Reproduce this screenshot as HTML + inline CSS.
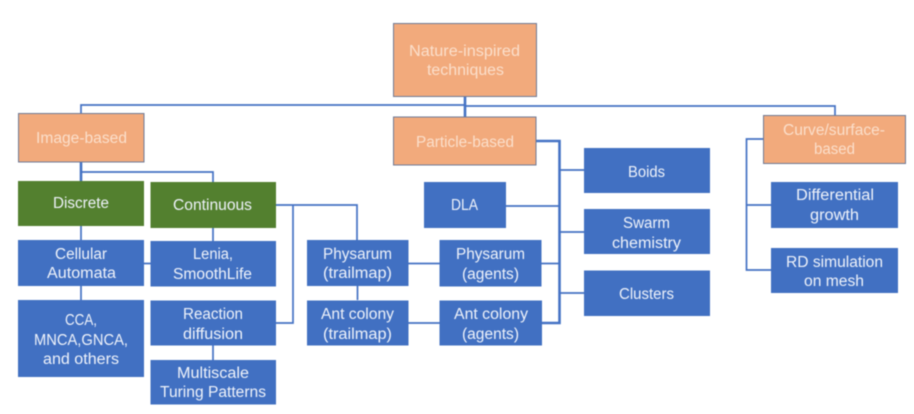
<!DOCTYPE html>
<html>
<head>
<meta charset="utf-8">
<style>
html,body{margin:0;padding:0;background:#fff;width:914px;height:414px;overflow:hidden}
svg{display:block;filter:blur(.4px)}
text{font-family:"Liberation Sans",sans-serif;font-size:15.5px;fill:#eef2fa}
text.o{fill:#fbdfcb}
.b{fill:#4170c2}
.g{fill:#53802f}
.r{fill:#f2aa7c;stroke:#6f7a96;stroke-width:1}
.l{stroke:#4472c4;stroke-width:1.7;fill:none}
.t{stroke:#4472c4;stroke-width:2.6;fill:none}
</style>
</head>
<body>
<svg width="914" height="414" viewBox="0 0 914 414" xmlns="http://www.w3.org/2000/svg">
<g>
<path class="l" d="M81 113V105H465M465 106H835V115"/>
<path class="t" d="M465 96V117"/>
<path class="t" d="M81 162V181"/>
<path class="l" d="M81 172H213V182"/>
<path class="l" d="M81 226V240M81 286V300M213 228V241M213 345V360M144 263.5H151"/>
<path class="l" d="M276 205H357V240M293 205V323H276M357.500 286V300"/>
<path class="l" d="M408 263.500H440M408 323H440"/>
<path class="t" d="M536 141H559.500V323H542"/>
<path class="l" d="M541 263.500H559M506 206H559M560 170H584M560 232H584M560 293H584"/>
<path class="l" d="M763 139H746.500V270H771M746.500 205H771"/>
</g>
<g>
<rect class="r" x="393.500" y="23.500" width="143" height="73"/>
<rect class="r" x="18.500" y="113.500" width="125.500" height="48.500"/>
<rect class="r" x="393.500" y="117" width="142.500" height="48"/>
<rect class="r" x="763.500" y="115.500" width="142" height="48"/>
<rect class="g" x="18" y="181" width="126" height="45"/>
<rect class="g" x="150.500" y="182" width="125.500" height="46"/>
<rect class="b" x="18" y="240" width="126" height="46"/>
<rect class="b" x="150.500" y="241" width="125.500" height="45.500"/>
<rect class="b" x="18" y="300" width="126" height="77"/>
<rect class="b" x="150.500" y="300.500" width="125.500" height="45"/>
<rect class="b" x="150.500" y="360" width="125.500" height="44.500"/>
<rect class="b" x="307" y="240" width="101.500" height="46"/>
<rect class="b" x="307" y="300.500" width="101.500" height="45"/>
<rect class="b" x="439.500" y="240" width="102" height="46.500"/>
<rect class="b" x="439.500" y="300.500" width="102.500" height="45"/>
<rect class="b" x="424" y="182" width="82" height="46"/>
<rect class="b" x="584" y="148" width="126" height="45"/>
<rect class="b" x="584" y="209" width="126" height="45"/>
<rect class="b" x="584" y="270.500" width="126" height="45.500"/>
<rect class="b" x="771" y="182" width="127" height="46"/>
<rect class="b" x="771" y="248" width="127" height="45"/>
</g>
<g>
<text class="o" x="409" y="56" textLength="111" lengthAdjust="spacingAndGlyphs">Nature-inspired</text>
<text class="o" x="427" y="75" textLength="77" lengthAdjust="spacingAndGlyphs">techniques</text>
<text class="o" x="36" y="143" textLength="91" lengthAdjust="spacingAndGlyphs">Image-based</text>
<text class="o" x="416" y="147" textLength="98" lengthAdjust="spacingAndGlyphs">Particle-based</text>
<text class="o" x="783" y="135" textLength="102" lengthAdjust="spacingAndGlyphs">Curve/surface-</text>
<text class="o" x="814" y="154" textLength="41" lengthAdjust="spacingAndGlyphs">based</text>
<text x="53" y="208" textLength="56" lengthAdjust="spacingAndGlyphs">Discrete</text>
<text x="173" y="210" textLength="79" lengthAdjust="spacingAndGlyphs">Continuous</text>
<text x="55" y="259" textLength="52" lengthAdjust="spacingAndGlyphs">Cellular</text>
<text x="47" y="278" textLength="69" lengthAdjust="spacingAndGlyphs">Automata</text>
<text x="193" y="259" textLength="40" lengthAdjust="spacingAndGlyphs">Lenia,</text>
<text x="173" y="279" textLength="79" lengthAdjust="spacingAndGlyphs">SmoothLife</text>
<text x="65" y="325" textLength="32" lengthAdjust="spacingAndGlyphs">CCA,</text>
<text x="34" y="345" textLength="94" lengthAdjust="spacingAndGlyphs">MNCA,GNCA,</text>
<text x="43" y="364" textLength="76" lengthAdjust="spacingAndGlyphs">and others</text>
<text x="183" y="319" textLength="60" lengthAdjust="spacingAndGlyphs">Reaction</text>
<text x="183" y="339" textLength="60" lengthAdjust="spacingAndGlyphs">diffusion</text>
<text x="177" y="378" textLength="72" lengthAdjust="spacingAndGlyphs">Multiscale</text>
<text x="160" y="397" textLength="106" lengthAdjust="spacingAndGlyphs">Turing Patterns</text>
<text x="323" y="259" textLength="69" lengthAdjust="spacingAndGlyphs">Physarum</text>
<text x="323" y="278" textLength="69" lengthAdjust="spacingAndGlyphs">(trailmap)</text>
<text x="321" y="319" textLength="73" lengthAdjust="spacingAndGlyphs">Ant colony</text>
<text x="323" y="339" textLength="69" lengthAdjust="spacingAndGlyphs">(trailmap)</text>
<text x="456" y="259" textLength="69" lengthAdjust="spacingAndGlyphs">Physarum</text>
<text x="462" y="279" textLength="57" lengthAdjust="spacingAndGlyphs">(agents)</text>
<text x="454" y="319" textLength="74" lengthAdjust="spacingAndGlyphs">Ant colony</text>
<text x="462" y="339" textLength="57" lengthAdjust="spacingAndGlyphs">(agents)</text>
<text x="451" y="210" textLength="27" lengthAdjust="spacingAndGlyphs">DLA</text>
<text x="628" y="177" textLength="37" lengthAdjust="spacingAndGlyphs">Boids</text>
<text x="623" y="228" textLength="47" lengthAdjust="spacingAndGlyphs">Swarm</text>
<text x="612" y="248" textLength="69" lengthAdjust="spacingAndGlyphs">chemistry</text>
<text x="619" y="299" textLength="55" lengthAdjust="spacingAndGlyphs">Clusters</text>
<text x="796" y="200" textLength="78" lengthAdjust="spacingAndGlyphs">Differential</text>
<text x="810" y="220" textLength="49" lengthAdjust="spacingAndGlyphs">growth</text>
<text x="786" y="267" textLength="97" lengthAdjust="spacingAndGlyphs">RD simulation</text>
<text x="804" y="286" textLength="60" lengthAdjust="spacingAndGlyphs">on mesh</text>
</g>
</svg>
</body>
</html>
